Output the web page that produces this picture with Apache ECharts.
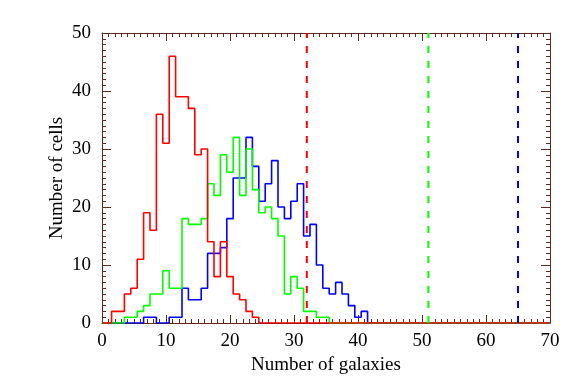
<!DOCTYPE html>
<html>
<head>
<meta charset="utf-8">
<script src="https://cdn.jsdelivr.net/npm/echarts@6/dist/echarts.min.js"></script>
<style>html,body{margin:0;padding:0;background:#fff}#c{width:581px;height:388px}</style>
</head>
<body>
<div id="c"></div>
<script>
// Histogram counts per bin, bins centred on integers starting at x = 0
var redCounts   = [0,0,2,2,5,6,11,19,16,36,31,46,39,39,37,29,30,14,8,14,8,5,4,2,1];
var greenCounts = [0,0,0,0,1,1,2,3,5,5,9,6,6,18,17,17,18,24,22,29,26,32,22,30,23,19,20,18,15,5,8,6,2,2,1,1];
var blueCounts  = [0,0,0,0,0,0,0,1,1,0,0,1,1,6,4,4,6,12,12,13,18,25,25,32,27,21,24,28,20,18,21,24,15,17,10,6,5,7,5,3,1,2];
var thresholds  = [32, 51, 65];
var xMax = 70;

function toSeriesData(counts) {
  var d = [];
  for (var i = 0; i <= xMax; i++) d.push([i, i < counts.length ? counts[i] : 0]);
  return d;
}

var font = 'Liberation Serif';
var axisCol = '#5a2a1c';
var chart = echarts.init(document.getElementById('c'), null, {renderer: 'canvas'});

function xAx(pos, show) {
  return {
    type: 'value', min: 0, max: 70, interval: 10, position: pos,
    name: show ? 'Number of galaxies' : '', nameLocation: 'middle', nameGap: 30,
    nameTextStyle: {fontFamily: font, fontSize: 19, color: '#000'},
    axisLine: {show: true, onZero: false, lineStyle: {color: axisCol, width: 1}},
    axisTick: {show: true, inside: true, length: 8, lineStyle: {color: axisCol}},
    minorTick: {show: true, splitNumber: 10, length: 4, lineStyle: {color: axisCol}},
    axisLabel: {show: show, margin: 9, fontFamily: font, fontSize: 19, color: '#000'},
    splitLine: {show: false}
  };
}
function yAx(pos, show) {
  return {
    type: 'value', min: 0, max: 50, interval: 10, position: pos,
    name: show ? 'Number of cells' : '', nameLocation: 'middle', nameGap: 35,
    nameMoveOverlap: false,
    nameTextStyle: {fontFamily: font, fontSize: 19, color: '#000'},
    axisLine: {show: true, onZero: false, lineStyle: {color: axisCol, width: 1}},
    axisTick: {show: true, inside: true, length: 9, lineStyle: {color: axisCol}},
    minorTick: {show: true, splitNumber: 10, length: 4, lineStyle: {color: axisCol}},
    axisLabel: {show: show, margin: 11, fontFamily: font, fontSize: 19, color: '#000'},
    splitLine: {show: false}
  };
}

var colors = ['#0000ff', '#00ff00', '#ff0000'];
var hists = [blueCounts, greenCounts, redCounts];
var series = [];
hists.forEach(function (h, k) {
  series.push({
    type: 'line', step: 'middle', symbol: 'none', silent: true, animation: false,
    data: toSeriesData(h), lineStyle: {color: colors[k], width: 1.6}, z: 2 + k
  });
});
var dashCols = ['#ff0000', '#00ff00', '#0000ff'];
thresholds.forEach(function (t, k) {
  series.push({
    type: 'line', symbol: 'none', silent: true, animation: false,
    data: [[t, 0], [t, 50]],
    lineStyle: {color: dashCols[k], width: 2, type: [7, 8]}, z: 5
  });
});

chart.setOption({
  animation: false,
  backgroundColor: '#fff',
  grid: {left: 102, right: 31, top: 33, bottom: 65},
  xAxis: [xAx('bottom', true), xAx('top', false)],
  yAxis: [yAx('left', true), yAx('right', false)],
  series: series
});
</script>
</body>
</html>
